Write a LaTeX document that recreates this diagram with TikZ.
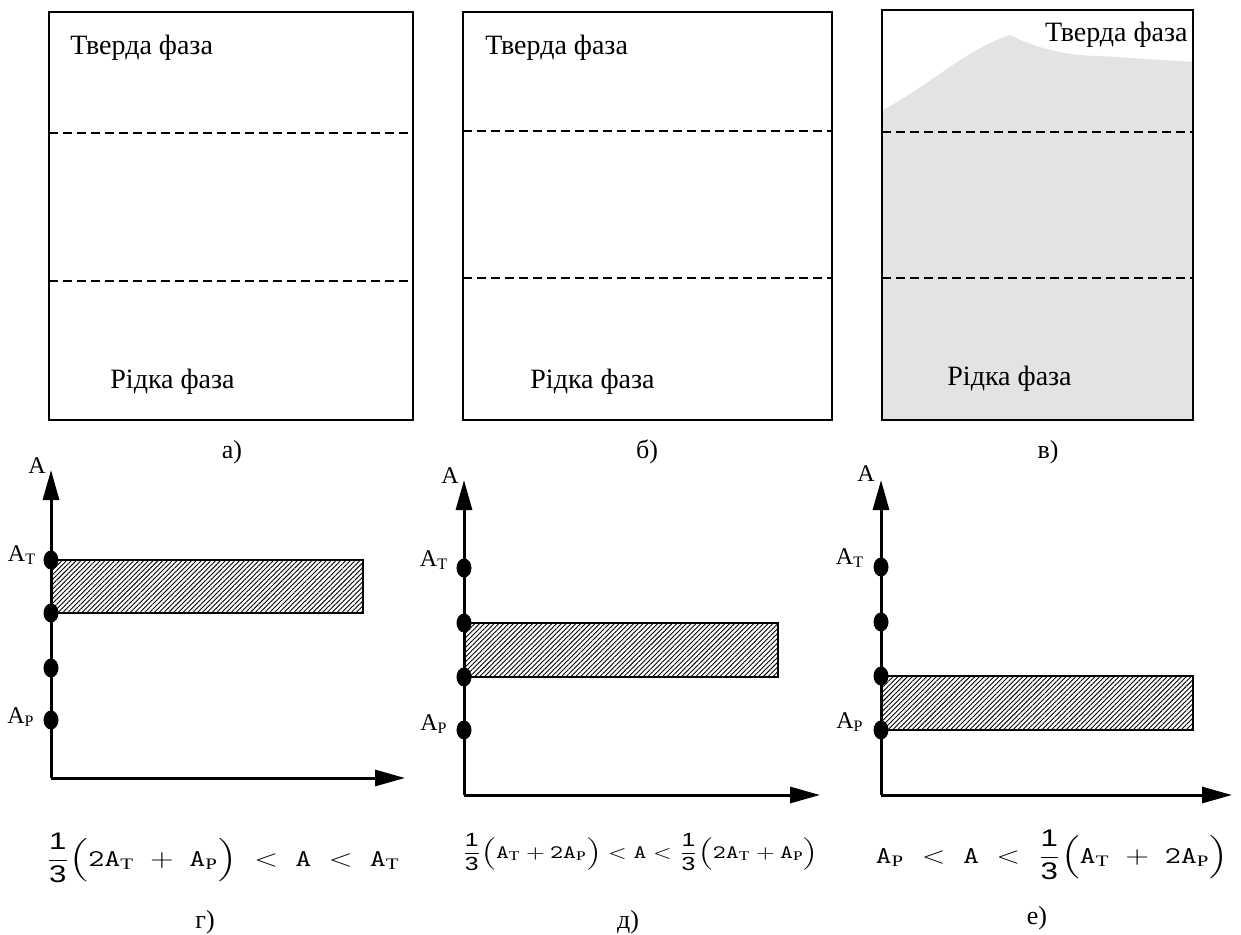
\documentclass[tikz,border=0pt]{standalone}
\usepackage{amsmath}
\usepackage{graphicx}
\usepackage{fontspec}
\setmainfont{Liberation Serif}
\setsansfont{Liberation Sans}
\usepackage{tikz}
\usetikzlibrary{shapes,arrows.meta,positioning,patterns.meta}

\newcommand{\mA}{\text{\ttfamily A}}
\newcommand{\mAT}{\mA_{\text{\rmfamily Т}}}
\newcommand{\mAP}{\mA_{\text{\rmfamily Р}}}
\newcommand{\mtwo}{\text{\ttfamily 2}}
\newcommand{\third}{\frac{\text{\sffamily 1}}{\text{\sffamily 3}}}

\begin{document}
\begin{tikzpicture}[x=0.5pt,y=-0.5pt,
    frame/.style={draw,line width=1.4pt},
    phase/.style={line width=0.8pt,dash pattern=on 4.5pt off 2.5pt},
    txt/.style={font=\fontsize{14}{16}\selectfont,inner sep=0pt},
    tag/.style={font=\fontsize{13}{15}\selectfont,inner sep=0pt},
    axis/.style={line width=1.5pt,-{Triangle[length=15pt,width=8pt]}},
    dot/.style={ellipse,fill,inner sep=0pt,minimum width=7.5pt,minimum height=9.5pt},
    band/.style={draw,line width=1pt,pattern={Lines[angle=45,distance=1.7pt,line width=0.45pt]}},
    lab/.style={font=\fontsize{12}{14}\selectfont,inner sep=0pt},
    eq/.style={inner sep=0pt}
  ]
  \useasboundingbox (0,0) rectangle (1241,935);

  % a)
  \draw[frame] (49,12) rectangle (413,420);
  \draw[phase] (49,133) -- (413,133);
  \draw[phase] (49,281) -- (413,281);
  \node[txt,anchor=west] (ta) at (70,48) {Тверда фаза};
  \node[txt,anchor=west] (ra) at (110,382) {Рідка фаза};
  \node[tag] (ca) at (232,452) {а)};

  % b)
  \draw[frame] (463,12) rectangle (832,420);
  \draw[phase] (463,131) -- (832,131);
  \draw[phase] (463,278) -- (832,278);
  \node[txt,anchor=west] (tb) at (485,48) {Тверда фаза};
  \node[txt,anchor=west] (rb) at (530,382) {Рідка фаза};
  \node[tag] (cb) at (647,452) {б)};

  % v)
  \fill[black!11] (883,110) .. controls (930,85) and (965,50) .. (1010,35)
    .. controls (1030,45) and (1060,56) .. (1100,56) -- (1193,62) -- (1193,420) -- (883,420) -- cycle;
  \draw[frame] (882,10) rectangle (1193,420);
  \draw[phase] (882,132) -- (1193,132);
  \draw[phase] (882,278) -- (1193,278);
  \node[txt,anchor=east] (tv) at (1188,35) {Тверда фаза};
  \node[txt,anchor=west] (rv) at (947,379) {Рідка фаза};
  \node[tag] (cv) at (1048,452) {в)};

  % g)
  \coordinate (g0) at (51,778);
  \coordinate (gy) at (51,470);
  \coordinate (gx) at (405,778);
  \coordinate (gr) at (363,613);
  \draw[band] (51,560) rectangle (gr);
  \draw[axis] (g0) -- (gy);
  \draw[axis] (g0) -- (gx);
  \node[dot] (gT) at (51,560) {};
  \node[dot] (g2) at (51,613) {};
  \node[dot] (g3) at (51,668) {};
  \node[dot] (gP) at (51,720) {};
  \node[lab] (gA) at (37,466) {A};
  \node[lab] (gAT) at (22,555) {A\textsubscript{Т}};
  \node[lab] (gAP) at (21,717) {A\textsubscript{Р}};
  \node[eq] (fg) at (223,858) {\scalebox{1.3}[1]{\fontsize{12}{14}\selectfont
    $\displaystyle\third\Big(\mtwo\mAT \;+\; \mAP\Big) \;<\; \mA \;<\; \mAT$}};
  \node[tag] (cg) at (205,922) {г)};

  % d)
  \coordinate (d0) at (464,795);
  \coordinate (dy) at (464,480);
  \coordinate (dx) at (820,795);
  \coordinate (dr) at (778,677);
  \draw[band] (464,623) rectangle (dr);
  \draw[axis] (d0) -- (dy);
  \draw[axis] (d0) -- (dx);
  \node[dot] (dT) at (464,568) {};
  \node[dot] (d2) at (464,623) {};
  \node[dot] (d3) at (464,677) {};
  \node[dot] (dP) at (464,730) {};
  \node[lab] (dA) at (450,476) {A};
  \node[lab] (dAT) at (434,560) {A\textsubscript{Т}};
  \node[lab] (dAP) at (434,724) {A\textsubscript{Р}};
  \node[eq] (fd) at (640,852) {\scalebox{1.3}[1]{\fontsize{9.5}{11}\selectfont
    $\displaystyle\third\Big(\mAT + \mtwo\mAP\Big) < \mA < \third\Big(\mtwo\mAT + \mAP\Big)$}};
  \node[tag] (cd) at (628,922) {д)};

  % e)
  \coordinate (e0) at (881,795);
  \coordinate (ey) at (881,480);
  \coordinate (ex) at (1232,795);
  \coordinate (er) at (1193,730);
  \draw[band] (881,676) rectangle (er);
  \draw[axis] (e0) -- (ey);
  \draw[axis] (e0) -- (ex);
  \node[dot] (eT) at (881,567) {};
  \node[dot] (e2) at (881,622) {};
  \node[dot] (e3) at (881,676) {};
  \node[dot] (eP) at (881,730) {};
  \node[lab] (eA) at (866,474) {A};
  \node[lab] (eAT) at (850,558) {A\textsubscript{Т}};
  \node[lab] (eAP) at (850,722) {A\textsubscript{Р}};
  \node[eq] (fe) at (1052,855) {\scalebox{1.3}[1]{\fontsize{12}{14}\selectfont
    $\displaystyle\mAP \;<\; \mA \;<\; \third\Big(\mAT \;+\; \mtwo\mAP\Big)$}};
  \node[tag] (ce) at (1037,918) {е)};
\end{tikzpicture}
\end{document}
